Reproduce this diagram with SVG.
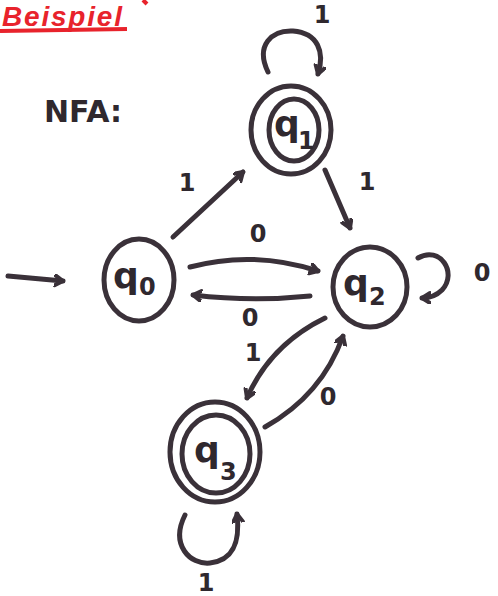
<svg xmlns="http://www.w3.org/2000/svg" width="498" height="596" viewBox="0 0 498 596">
<style>
.ring{fill:none;stroke:#3a3139;stroke-width:5}
.edge{fill:none;stroke:#3a3139;stroke-width:5;stroke-linecap:round}
.lbl{font-family:"DejaVu Sans",sans-serif;font-weight:bold;font-size:24px;fill:#2f282e;text-anchor:middle}
.q{font-family:"DejaVu Sans",sans-serif;font-weight:bold;font-size:36px;fill:#2f282e}
.sub{font-family:"DejaVu Sans",sans-serif;font-weight:bold;font-size:24px;fill:#2f282e}
</style>
<defs>
<marker id="ah" markerWidth="14" markerHeight="14" refX="9" refY="6" orient="auto" markerUnits="userSpaceOnUse">
<path d="M1,1 L9,6 L1,11" fill="none" stroke="#3a3139" stroke-width="4" stroke-linecap="round" stroke-linejoin="round"/>
</marker>
</defs>
<rect width="498" height="596" fill="#ffffff"/>
<g id="title">
<text x="2" y="26" font-family="Liberation Sans,sans-serif" font-style="italic" font-weight="bold" font-size="28" fill="#e8232c" textLength="120">Beispiel</text>
<path d="M0,31 L127,29" stroke="#e8232c" stroke-width="4" fill="none"/>
<path d="M143,0 L147,4" stroke="#e8232c" stroke-width="4" fill="none"/>
<text x="44" y="122" font-family="DejaVu Sans,sans-serif" font-weight="bold" font-size="30" fill="#2f282e">NFA:</text>
</g>
<g id="connectors">
<path class="edge" d="M8,276 L63,281" marker-end="url(#ah)"/>
<path class="edge" d="M268,72 C255,45 272,30 293,31 C318,33 325,52 318,74" marker-end="url(#ah)"/>
<path class="edge" d="M173,237 L243,172" marker-end="url(#ah)"/>
<path class="edge" d="M325,170 L350,228" marker-end="url(#ah)"/>
<path class="edge" d="M190,267 Q253,250 318,271" marker-end="url(#ah)"/>
<path class="edge" d="M310,296 Q252,302 193,295" marker-end="url(#ah)"/>
<path class="edge" d="M418,258 C440,245 458,273 442,290 C436,296 429,298 422,298" marker-end="url(#ah)"/>
<path class="edge" d="M325,318 Q270,345 247,398" marker-end="url(#ah)"/>
<path class="edge" d="M265,427 Q322,395 343,336" marker-end="url(#ah)"/>
<path class="edge" d="M185,515 C170,545 190,565 210,563 C235,560 240,540 237,514" marker-end="url(#ah)"/>
<text class="lbl" x="322" y="23">1</text>
<text class="lbl" x="187" y="191">1</text>
<text class="lbl" x="367" y="190">1</text>
<text class="lbl" x="258" y="242">0</text>
<text class="lbl" x="250" y="326">0</text>
<text class="lbl" x="482" y="281">0</text>
<text class="lbl" x="253" y="361">1</text>
<text class="lbl" x="328" y="405">0</text>
<text class="lbl" x="206" y="591">1</text>
</g>
<g id="q0">
<ellipse class="ring" cx="139" cy="280" rx="35" ry="41"/>
<text class="q" x="113" y="288">q</text><text class="sub" x="139" y="295">0</text>
</g>
<g id="q1">
<ellipse class="ring" cx="291" cy="130" rx="40" ry="44"/>
<ellipse class="ring" cx="294" cy="130" rx="25" ry="31"/>
<text class="q" x="274" y="136">q</text><text class="sub" x="298" y="149">1</text>
</g>
<g id="q2">
<ellipse class="ring" cx="370" cy="287" rx="37" ry="40"/>
<text class="q" x="343" y="295">q</text><text class="sub" x="369" y="305">2</text>
</g>
<g id="q3">
<ellipse class="ring" cx="215" cy="452" rx="45" ry="50"/>
<ellipse class="ring" cx="216" cy="454" rx="34" ry="39"/>
<text class="q" x="194" y="462">q</text><text class="sub" x="220" y="480">3</text>
</g>
</svg>
